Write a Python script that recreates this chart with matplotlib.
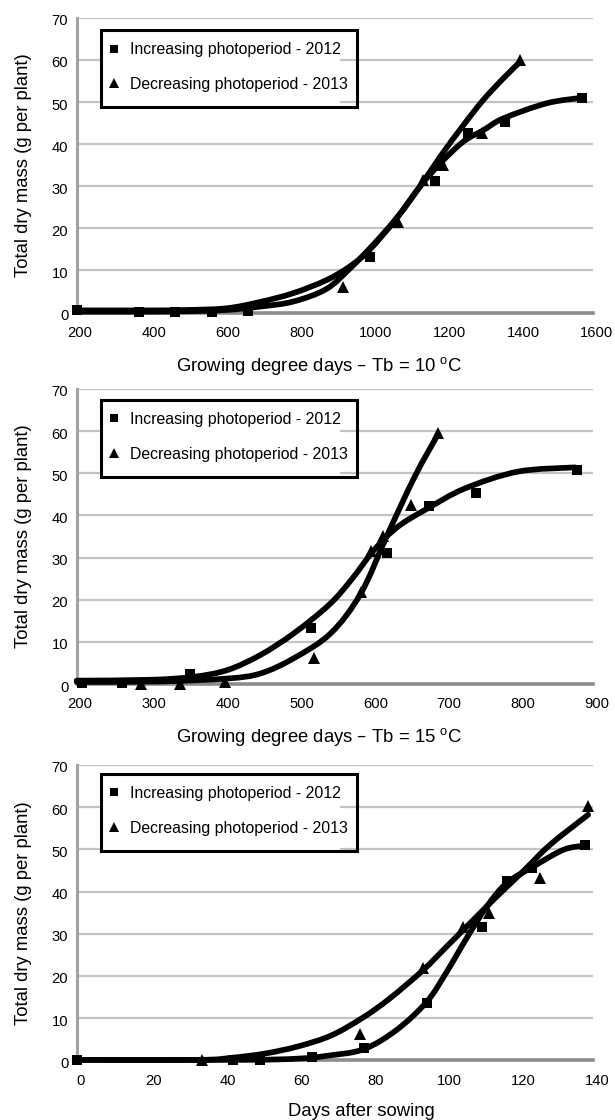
import numpy as np
import matplotlib
matplotlib.use('Agg')
import matplotlib.pyplot as plt
from matplotlib.path import Path
from matplotlib.patches import PathPatch, Rectangle
from matplotlib.lines import Line2D
import matplotlib.transforms as mtransforms

plt.rcParams['font.family'] = ['Liberation Sans', 'DejaVu Sans']
plt.rcParams['mathtext.default'] = 'regular'

# ---------------- data ----------------
legend_labels = ['Increasing photoperiod - 2012', 'Decreasing photoperiod - 2013']
y_ticks = [0, 10, 20, 30, 40, 50, 60, 70]

# Panel 1: growing degree days, Tb = 10 C
gdd10_ticks = [200, 400, 600, 800, 1000, 1200, 1400, 1600]
gdd10_inc_x = [200, 370, 466, 566, 665, 995, 1171, 1261, 1361, 1569]
gdd10_inc_y = [0.5, 0.1, 0.1, 0.2, 0.4, 13.3, 31.3, 42.6, 45.2, 51.0]
gdd10_dec_x = [922, 1072, 1139, 1194, 1298, 1401]
gdd10_dec_y = [6.1, 21.6, 31.5, 35.0, 42.6, 60.0]
gdd10_inc_fit_x = [200, 400, 500, 606, 697, 787, 877, 941, 995, 1067, 1130, 1185, 1248, 1302, 1356, 1474, 1568]
gdd10_inc_fit_y = [0.5, 0.5, 0.6, 1.0, 2.5, 4.6, 7.7, 11.0, 15.0, 22.4, 29.9, 35.4, 40.6, 43.3, 46.1, 49.7, 51.0]
gdd10_dec_fit_x = [200, 400, 500, 606, 697, 787, 877, 941, 995, 1067, 1130, 1185, 1248, 1302, 1356, 1401]
gdd10_dec_fit_y = [0.2, 0.2, 0.3, 0.6, 1.4, 2.6, 5.6, 10.5, 15.3, 22.4, 29.9, 37.0, 44.5, 50.5, 55.6, 59.5]

# Panel 2: growing degree days, Tb = 15 C
gdd15_ticks = [200, 300, 400, 500, 600, 700, 800, 900]
gdd15_inc_x = [207, 262, 354, 517, 620, 677, 741, 878]
gdd15_inc_y = [0.2, 0.3, 2.4, 13.4, 31.2, 42.2, 45.3, 50.8]
gdd15_dec_x = [287, 340, 401, 522, 585, 599, 615, 653, 690]
gdd15_dec_y = [0.0, 0.0, 0.4, 6.1, 21.9, 31.6, 35.1, 42.5, 59.5]
gdd15_inc_fit_x = [200, 300, 358, 404, 449, 494, 542, 572, 603, 635, 676, 726, 798, 875]
gdd15_inc_fit_y = [0.8, 1.0, 1.7, 3.3, 6.9, 12.0, 18.8, 24.7, 31.8, 37.3, 41.7, 46.4, 50.4, 51.4]
gdd15_dec_fit_x = [200, 313, 404, 449, 494, 544, 585, 621, 658, 689]
gdd15_dec_fit_y = [0.5, 0.6, 1.3, 2.5, 6.1, 12.0, 21.5, 35.4, 49.2, 59.1]

# Panel 3: days after sowing
das_ticks = [0, 20, 40, 60, 80, 100, 120, 140]
das_inc_x = [0, 42.4, 49.7, 63.8, 77.9, 94.9, 109.8, 116.7, 123.3, 137.7]
das_inc_y = [0.0, 0.0, 0.0, 0.7, 2.8, 13.5, 31.6, 42.5, 45.6, 51.1]
das_dec_x = [33.9, 76.8, 93.9, 104.8, 111.8, 125.6, 138.6]
das_dec_y = [0.0, 6.2, 21.8, 31.7, 35.0, 43.2, 60.2]
das_inc_fit_x = [0, 45, 60, 68, 77.7, 86.7, 94.9, 100.3, 105.7, 111.1, 116.5, 123.7, 131.9, 137.7]
das_inc_fit_y = [0.1, 0.1, 0.4, 1.1, 2.6, 7.2, 13.9, 21.0, 29.0, 36.4, 42.0, 45.9, 49.9, 50.9]
das_dec_fit_x = [0, 33, 42, 51, 60, 69, 77.7, 84.9, 93.9, 100.3, 106.6, 113.8, 121.0, 128.3, 138.6]
das_dec_fit_y = [0.1, 0.1, 0.6, 1.6, 3.3, 5.9, 10.2, 14.7, 21.4, 27.0, 32.5, 38.8, 44.8, 51.1, 58.2]

panels = [
    dict(ticks=gdd10_ticks, xlabel='Growing degree days \u2013 Tb = 10 $\\mathregular{^o}$C',
         inc=(gdd10_inc_x, gdd10_inc_y), dec=(gdd10_dec_x, gdd10_dec_y),
         inc_fit=(gdd10_inc_fit_x, gdd10_inc_fit_y), dec_fit=(gdd10_dec_fit_x, gdd10_dec_fit_y),
         top_px=17.8, bottom_px=312.5, xlab_x=0.4684, box_off=12.0),
    dict(ticks=gdd15_ticks, xlabel='Growing degree days \u2013 Tb = 15 $\\mathregular{^o}$C',
         inc=(gdd15_inc_x, gdd15_inc_y), dec=(gdd15_dec_x, gdd15_dec_y),
         inc_fit=(gdd15_inc_fit_x, gdd15_inc_fit_y), dec_fit=(gdd15_dec_fit_x, gdd15_dec_fit_y),
         top_px=389.0, bottom_px=684.0, xlab_x=0.4684, box_off=10.5),
    dict(ticks=das_ticks, xlabel='Days after sowing',
         inc=(das_inc_x, das_inc_y), dec=(das_dec_x, das_dec_y),
         inc_fit=(das_inc_fit_x, das_inc_fit_y), dec_fit=(das_dec_fit_x, das_dec_fit_y),
         top_px=765.0, bottom_px=1060.3, xlab_x=0.5517, box_off=8.5),
]


def smooth_path(x, y):
    pts = np.column_stack([x, y]).astype(float)
    n = len(pts)
    verts = [pts[0]]
    codes = [Path.MOVETO]
    for i in range(n - 1):
        p0 = pts[i - 1] if i > 0 else pts[i]
        p1 = pts[i]
        p2 = pts[i + 1]
        p3 = pts[i + 2] if i + 2 < n else pts[i + 1]
        c1 = p1 + (p2 - p0) / 6.0
        c2 = p2 - (p3 - p1) / 6.0
        verts += [c1, c2, p2]
        codes += [Path.CURVE4] * 3
    return Path(verts, codes)


W, H = 615, 1120
fig = plt.figure(figsize=(W / 100, H / 100), dpi=100)
left_px, right_px = 76.7, 593.3

x_off = mtransforms.ScaledTranslation(3.5 / 100, 0, fig.dpi_scale_trans)
y_off = mtransforms.ScaledTranslation(0, -2 / 100, fig.dpi_scale_trans)

for p in panels:
    ax = fig.add_axes([left_px / W, 1 - p['bottom_px'] / H,
                       (right_px - left_px) / W, (p['bottom_px'] - p['top_px']) / H])
    ah = p['bottom_px'] - p['top_px']
    aw = right_px - left_px
    ax.set_xlim(p['ticks'][0], p['ticks'][-1])
    ax.set_ylim(0, 70)
    ax.set_xticks(p['ticks'])
    ax.set_yticks(y_ticks)
    ax.yaxis.grid(True, color='#c3c3c3', lw=1.6)
    ax.set_axisbelow(True)
    for s in ('top', 'right'):
        ax.spines[s].set_visible(False)
    ax.spines['left'].set_color('#a2a2a2')
    ax.spines['left'].set_linewidth(2.2)
    ax.spines['bottom'].set_color('#8c8c8c')
    ax.spines['bottom'].set_linewidth(2.6)
    ax.tick_params(axis='x', length=0, pad=9.7, labelsize=10.6, colors='black')
    ax.tick_params(axis='y', length=0, pad=6, labelsize=10.6, colors='black')

    # fitted curves
    for fx, fy in (p['inc_fit'], p['dec_fit']):
        patch = PathPatch(smooth_path(fx, fy), fill=False, edgecolor='black', lw=4.1,
                          capstyle='round', joinstyle='round', zorder=3, clip_on=False)
        ax.add_patch(patch)
    # observations
    ax.plot(p['inc'][0], p['inc'][1], ls='none', marker='s', ms=7.8, color='black',
            mew=0, zorder=4, clip_on=False)
    ax.plot(p['dec'][0], p['dec'][1], ls='none', marker='^', ms=8.3, color='black',
            mew=0, zorder=4, clip_on=False)

    # legend box
    bx0 = (101 - left_px) / aw
    bx1 = (356.7 - left_px) / aw
    bxw = (340 - left_px) / aw
    btop = 1 - p['box_off'] / ah
    bbot = 1 - (p['box_off'] + 77) / ah
    ax.add_patch(Rectangle((bx0, bbot), bxw - bx0, btop - bbot, transform=ax.transAxes,
                           facecolor='white', edgecolor='none', zorder=2.6))
    ax.add_patch(Rectangle((bx0, bbot), bx1 - bx0, btop - bbot, transform=ax.transAxes,
                           facecolor='none', edgecolor='black', lw=2.2, zorder=5, clip_on=False))
    handles = [Line2D([], [], ls='none', marker='s', ms=6.2, color='black', mew=0),
               Line2D([], [], ls='none', marker='^', ms=6.8, color='black', mew=0)]
    leg = ax.legend(handles, legend_labels, loc='upper left',
                    bbox_to_anchor=(bx0, 1 - (p['box_off'] + 7.7) / ah),
                    frameon=False, fontsize=11.4, borderpad=0.3, borderaxespad=0,
                    handlelength=1.0, handletextpad=0.5, labelspacing=1.24)
    leg.set_zorder(6)

    ax.set_ylabel('Total dry mass (g per plant)', fontsize=13.3, va='center')
    ax.yaxis.set_label_coords((23.2 - left_px) / aw, 0.5)
    ax.set_xlabel(p['xlabel'], fontsize=13.3, va='top')
    ax.xaxis.set_label_coords(p['xlab_x'], -0.143)

    for lab in ax.get_xticklabels():
        lab.set_transform(lab.get_transform() + x_off)
    for lab in ax.get_yticklabels():
        lab.set_transform(lab.get_transform() + y_off)

fig.savefig('out.png', dpi=100)
